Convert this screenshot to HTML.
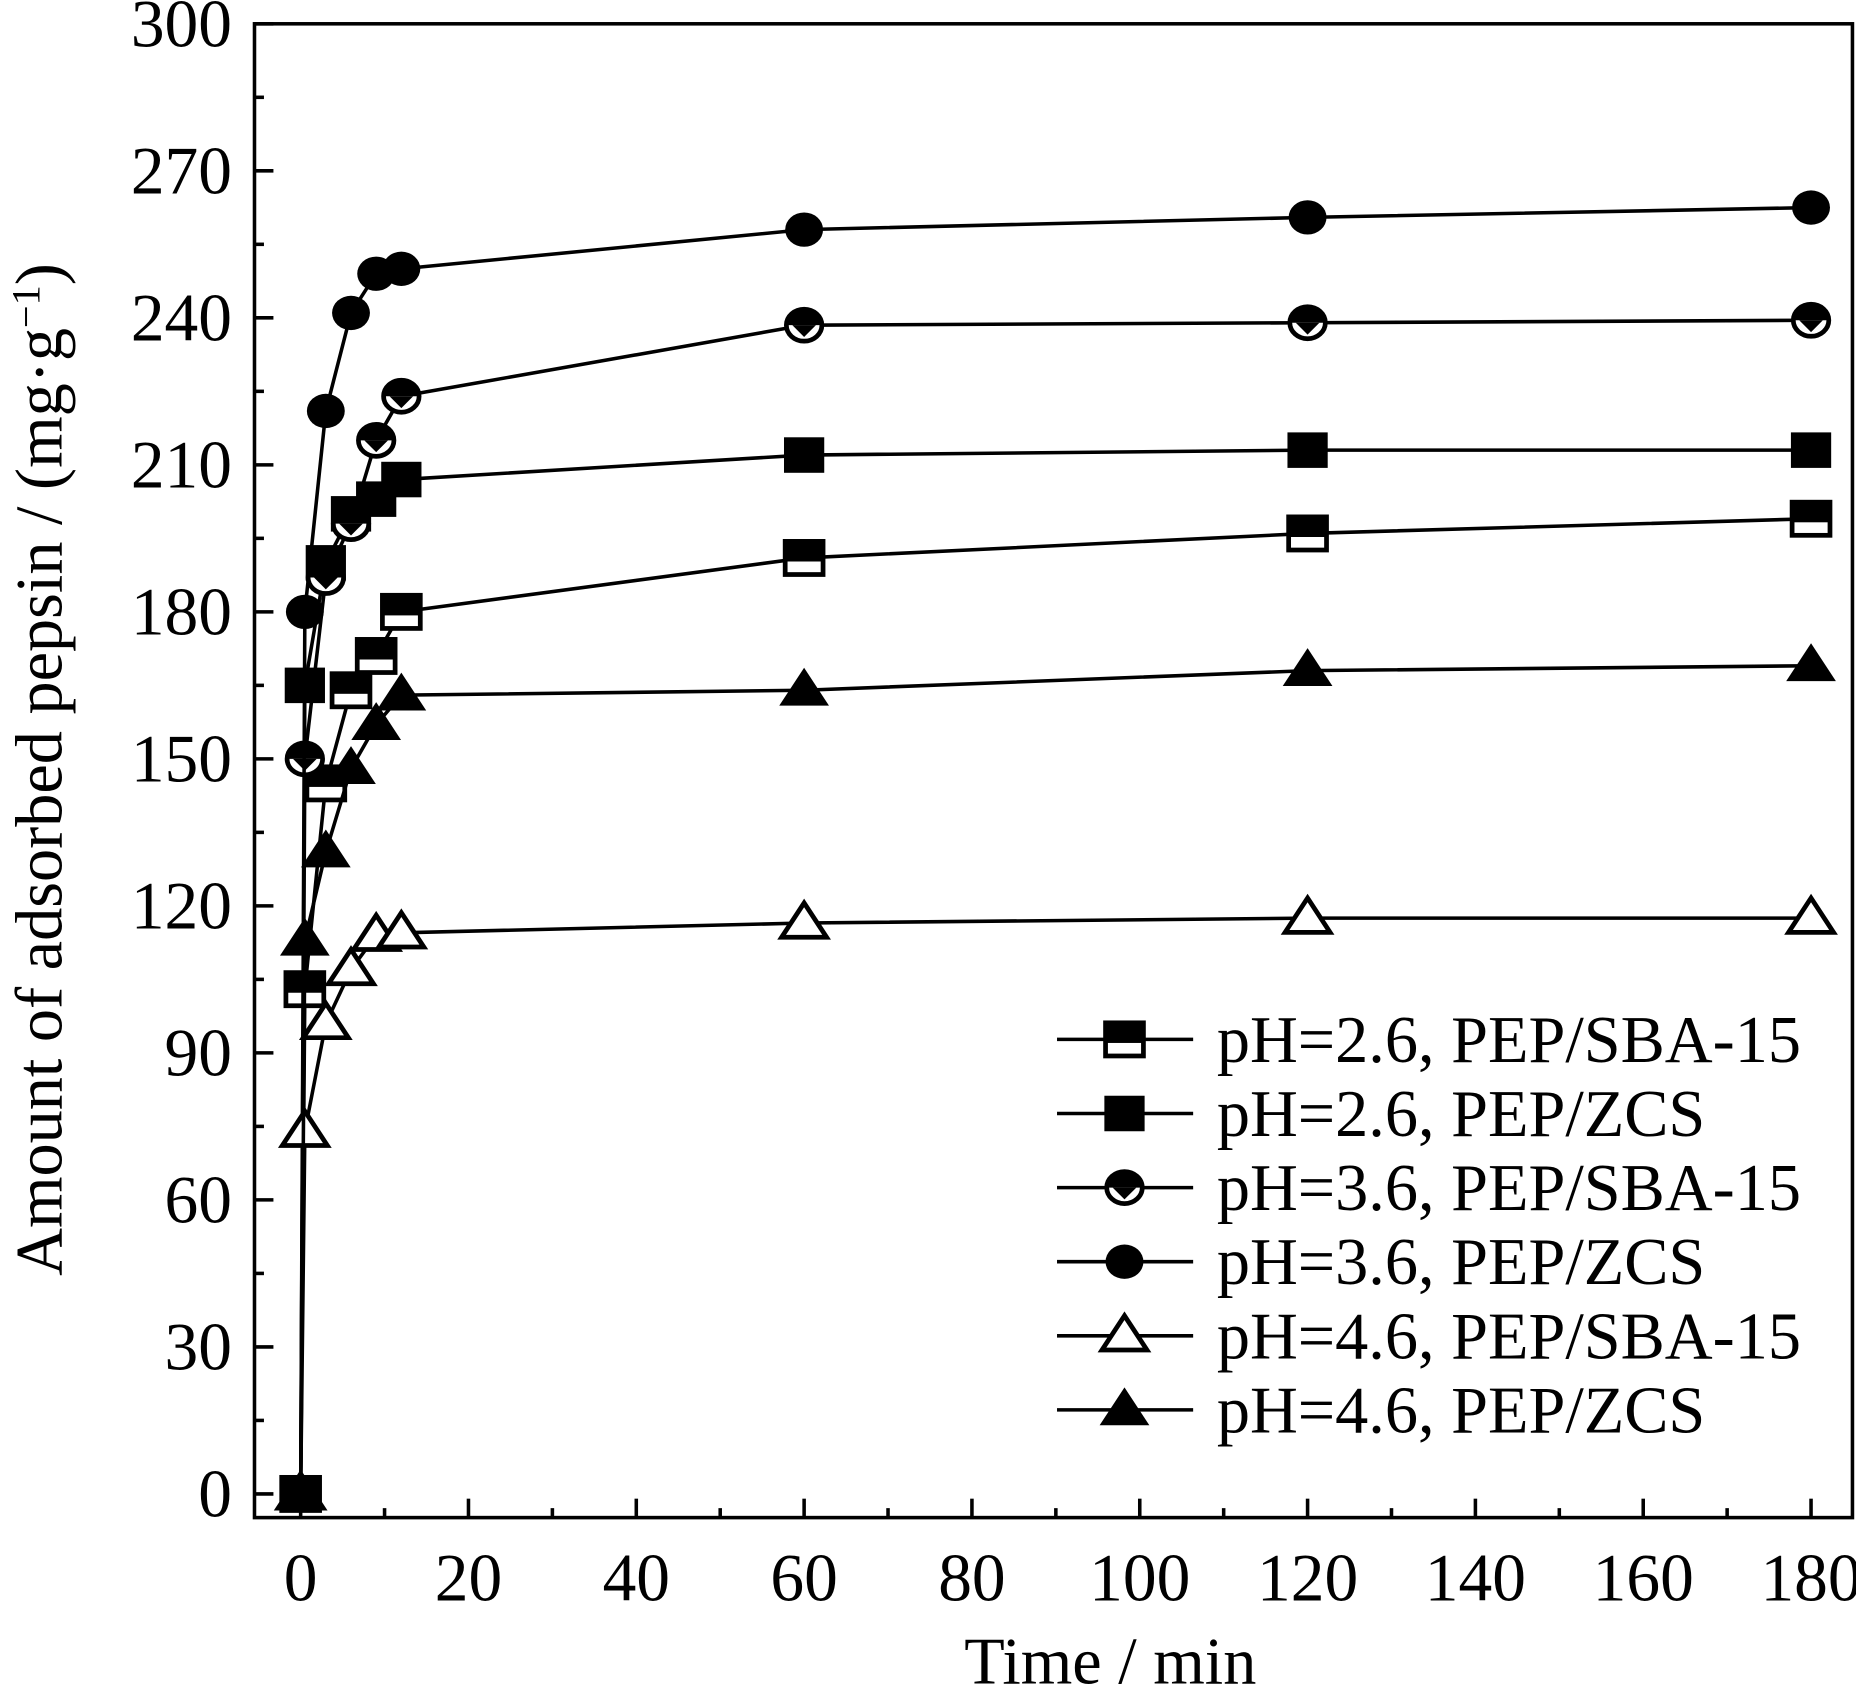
<!DOCTYPE html>
<html><head><meta charset="utf-8"><style>html,body{margin:0;padding:0;background:#fff}svg{display:block}</style></head>
<body>
<svg id="chart" width="1856" height="1687" viewBox="0 0 1568 1425" xmlns="http://www.w3.org/2000/svg" font-family="Liberation Serif, serif">
<rect x="215" y="20" width="1350" height="1262" fill="none" stroke="#000" stroke-width="3"/>
<g id="axes"></g>
<g id="series"></g>
<g id="legend"></g>
<text x="938" y="1422" font-size="56" text-anchor="middle">Time / min</text>
<text transform="translate(52,650) rotate(-90)" font-size="56" text-anchor="middle">Amount of adsorbed pepsin / (mg·g<tspan baseline-shift="super" font-size="34">−1</tspan>)</text>
</svg>
<script>
const times=[0,0.5,3,6,9,12,60,120,180];
const sba26=[0,103,145,164,171,180,191,196,199];
const zcs26=[0,165,190,200,203,207,212,213,213];
const sba36=[0,150,187,198,215,224,238.5,239,239.5];
const zcs36=[0,180,221,241,249,250,258,260.5,262.5];
const sba46=[0,74,96,107,114,114.5,116.5,117.5,117.5];
const zcs46=[0,113,131,148,157,163,164,168,169];
const xTicks=[0,20,40,60,80,100,120,140,160,180];
const yTicks=[0,30,60,90,120,150,180,210,240,270,300];
const labels=["pH=2.6, PEP/SBA-15","pH=2.6, PEP/ZCS","pH=3.6, PEP/SBA-15","pH=3.6, PEP/ZCS","pH=4.6, PEP/SBA-15","pH=4.6, PEP/ZCS"];
const NS="http://www.w3.org/2000/svg";
const xs=v=>254+v*7.089, ys=v=>1262-v*4.14;
function mk(tag,attrs,parent){const e=document.createElementNS(NS,tag);for(const k in attrs)e.setAttribute(k,attrs[k]);parent.appendChild(e);return e;}
const axes=document.getElementById('axes');
xTicks.forEach(t=>{
 const l=mk('line',{x1:xs(t),x2:xs(t),y1:1282,y2:1266,stroke:'#000','stroke-width':3},axes);
 
 
 const m=mk('line',{x1:xs(t+10),x2:xs(t+10),y1:1282,y2:1274,stroke:'#000','stroke-width':3},axes);
 
 
 const tx=mk('text',{x:xs(t),y:1352,'font-size':57,'text-anchor':'middle'},axes);tx.textContent=t;
 
 
});
yTicks.forEach(t=>{
 const l=mk('line',{x1:215,x2:231,y1:ys(t),y2:ys(t),stroke:'#000','stroke-width':3},axes);
 
 
 if(t<300){const m=mk('line',{x1:215,x2:223,y1:ys(t+15),y2:ys(t+15),stroke:'#000','stroke-width':3},axes);
 
 }
 const tx=mk('text',{x:196,y:ys(t)+19,'font-size':57,'text-anchor':'end'},axes);tx.textContent=t;
 
 
});
function marker(g,type,x,y){
 if(type==='sqHalf'){mk('rect',{x:x-16,y:y-14,width:32,height:28,fill:'#fff',stroke:'#000','stroke-width':4},g);mk('rect',{x:x-16,y:y-14,width:32,height:17,fill:'#000'},g);}
 else if(type==='sqFull'){mk('rect',{x:x-17,y:y-15,width:34,height:30,fill:'#000'},g);}
 else if(type==='cirHalf'){mk('ellipse',{cx:x,cy:y,rx:15,ry:13.5,fill:'#fff',stroke:'#000','stroke-width':4},g);mk('path',{d:`M${x-15} ${y} A15 13.5 0 0 1 ${x+15} ${y} Z`,fill:'#000'},g);mk('path',{d:`M${x-10} ${y} L${x} ${y+10} L${x+10} ${y} Z`,fill:'#000'},g);}
 else if(type==='cirFull'){mk('ellipse',{cx:x,cy:y,rx:16,ry:14.5,fill:'#000'},g);}
 else if(type==='triOpen'){mk('path',{d:`M${x} ${y-17} L${x+19} ${y+12} L${x-19} ${y+12} Z`,fill:'#fff',stroke:'#000','stroke-width':4},g);}
 else {mk('path',{d:`M${x} ${y-19} L${x+21} ${y+13} L${x-21} ${y+13} Z`,fill:'#000'},g);}
}
const all=[sba26,zcs26,sba36,zcs36,sba46,zcs46];
const types=['sqHalf','sqFull','cirHalf','cirFull','triOpen','triFull'];
const names=['series-ph26-sba15','series-ph26-zcs','series-ph36-sba15','series-ph36-zcs','series-ph46-sba15','series-ph46-zcs'];
const sg=document.getElementById('series');
all.forEach((vals,i)=>{
 const g=mk('g',{},sg);
 
 
 const pl=mk('polyline',{points:vals.map((v,j)=>xs(times[j])+','+ys(v)).join(' '),fill:'none',stroke:'#000','stroke-width':3},g);
 
 
 vals.forEach((v,j)=>marker(g,types[i],xs(times[j]),ys(v)));
});
const lg=document.getElementById('legend');
labels.forEach((lab,i)=>{
 const y=878+i*62.6;
 const g=mk('g',{},lg);
 
 
 mk('line',{x1:893,x2:1008,y1:y,y2:y,stroke:'#000','stroke-width':3},g);
 marker(g,types[i],950,y);
 const t=mk('text',{x:1028,y:y+19,'font-size':56},g);t.textContent=lab;
});
</script>
</body></html>
